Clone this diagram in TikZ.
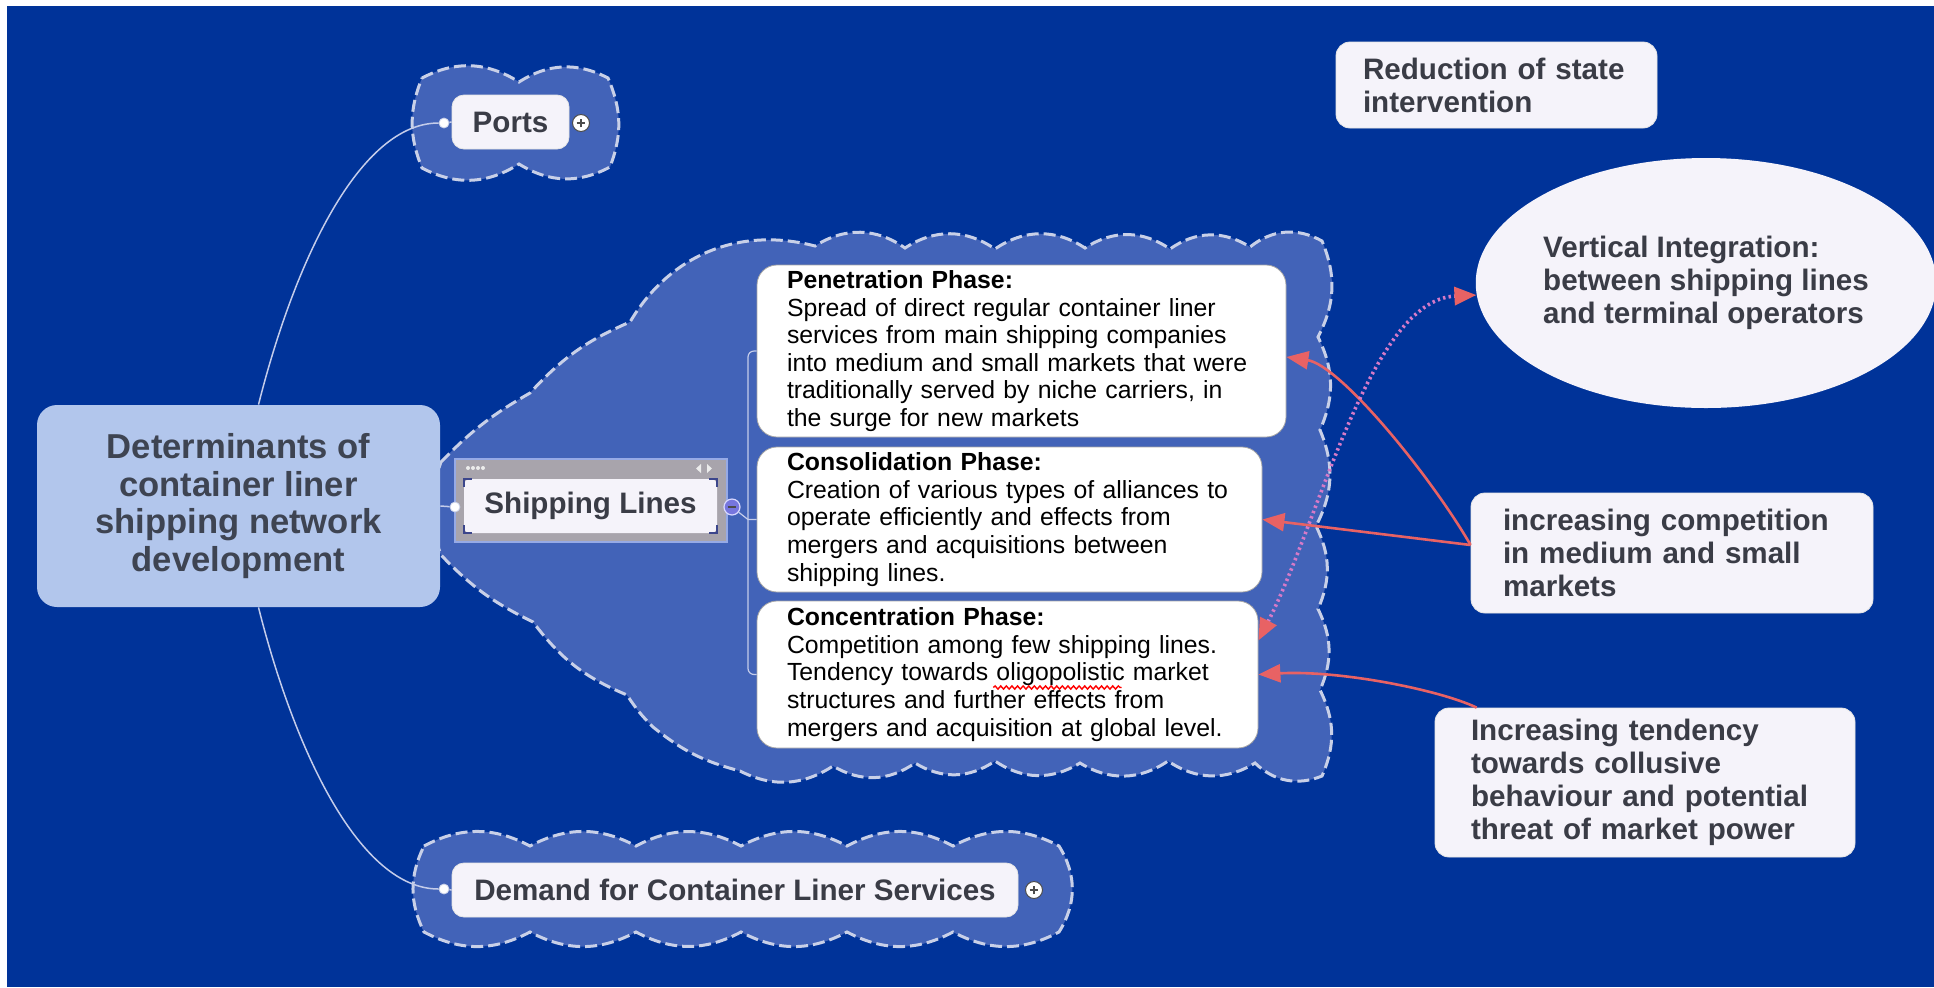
\documentclass[tikz,border=0pt]{standalone}
\usepackage{fontspec}
\setmainfont{Liberation Sans}
\usetikzlibrary{shapes.geometric,arrows.meta,calc,decorations.pathmorphing}

\definecolor{sea}{RGB}{0,51,153}
\definecolor{cloudfill}{RGB}{66,99,184}
\definecolor{cloudline}{RGB}{200,208,232}
\definecolor{rootfill}{RGB}{178,198,236}
\definecolor{boxfill}{RGB}{245,243,250}
\definecolor{ink}{RGB}{58,60,70}
\definecolor{rootink}{RGB}{62,68,82}
\definecolor{coral}{RGB}{232,98,100}
\definecolor{dotpink}{RGB}{214,122,200}
\definecolor{twig}{RGB}{196,204,234}
\definecolor{framegray}{RGB}{168,164,172}
\definecolor{minusfill}{RGB}{118,118,222}

\newcommand\rootfont{\fontsize{17.3pt}{18.8pt}\selectfont\bfseries}
\newcommand\labelfont{\fontsize{14.8pt}{16.5pt}\selectfont\bfseries}
\newcommand\phasefont{\fontsize{12.4pt}{13.8pt}\selectfont}
\newlength\wavestart
\newlength\wavelen

\begin{document}
\settowidth{\wavestart}{\phasefont Tendency towards }%
\settowidth{\wavelen}{\phasefont oligopolistic}%
\begin{tikzpicture}[x=0.5pt,y=-0.5pt,
    lbl/.style={font=\labelfont,text=ink},
    bubble/.style={lbl,draw=white!80!gray,fill=boxfill,rounded corners=7pt,line width=0.4pt,align=left,inner ysep=0pt},
    phase/.style={draw=gray!70,fill=white,rounded corners=10pt,align=left,font=\phasefont,text=black,inner xsep=15pt,inner ysep=0pt},
    knob/.style={circle,draw=cloudline,fill=white,inner sep=0pt,minimum size=5pt},
    toggle/.style={circle,draw=black!70,fill=white,inner sep=0pt,minimum size=8.5pt,line width=0.5pt,
      path picture={\draw[line width=0.8pt] ([xshift=-2.2pt]path picture bounding box.center) -- ([xshift=2.2pt]path picture bounding box.center)
        ([yshift=-2.2pt]path picture bounding box.center) -- ([yshift=2.2pt]path picture bounding box.center);}},
    cloud edge/.style={fill=cloudfill,draw=cloudline,line width=1.5pt,dash pattern=on 6pt off 2.5pt},
    link/.style={draw=twig,line width=0.75pt},
    corner/.style={draw={rgb,255:red,60;green,70;blue,140},line width=1pt},
    push/.style={draw=coral,line width=1.3pt,-{Triangle[length=11pt,width=9pt]}},
    tie/.style={draw=dotpink,line width=1.8pt,dash pattern=on 1.2pt off 1.6pt,
      {Triangle[length=11pt,width=9pt,color=coral]}-{Triangle[length=11pt,width=9pt,color=coral]}},
    spell/.style={draw=red,line width=0.7pt,decorate,decoration={snake,amplitude=0.8pt,segment length=2.8pt}}]

  \useasboundingbox (0,0) rectangle (1934,987);
  \fill[white] (0,0) rectangle (1934,987);
  \fill[sea] (7,6) rectangle (1934,987);

  % clouds behind the branches
  \draw[cloud edge] (422,78) to[bend left=30] (519,82) to[bend left=30] (608,78)
    to[bend left=22] (610,167) to[bend left=30] (519,164) to[bend left=30] (422,168)
    to[bend left=22] (422,78) -- cycle;

  \draw[cloud edge] (424,846) to[bend left=28] (530,846) to[bend left=28] (636,846)
    to[bend left=28] (741,846) to[bend left=28] (847,846) to[bend left=28] (953,846)
    to[bend left=28] (1059,846) to[bend left=32] (1059,932) to[bend left=28] (953,932)
    to[bend left=28] (847,932) to[bend left=28] (741,932) to[bend left=28] (636,932)
    to[bend left=28] (530,932) to[bend left=28] (424,932) to[bend left=26] (424,846) -- cycle;

  \draw[cloud edge] (441,462) to[bend left=8] (530,393) to[bend left=12] (630,322)
    to[bend left=37] (815,246) to[bend left=34] (905,248) to[bend left=34] (995,249)
    to[bend left=34] (1085,248) to[bend left=34] (1170,249) to[bend left=34] (1250,247)
    to[bend left=34] (1322,241) to[bend left=25] (1318,337) to[bend left=25] (1320,430)
    to[bend left=25] (1316,526) to[bend left=25] (1318,609) to[bend left=25] (1320,690)
    to[bend left=25] (1322,776) to[bend left=33] (1255,763) to[bend left=33] (1168,761)
    to[bend left=33] (1080,763) to[bend left=33] (995,761) to[bend left=33] (915,763)
    to[bend left=33] (833,766) to[bend left=30] (740,771) to[bend left=12] (653,727)
    to[bend left=6] (627,695) to[bend left=15] (533,622) to[bend left=10] (441,555)
    to[bend left=20] (441,462) -- cycle;

  \node[fill=rootfill,rounded corners=10pt,minimum width=201.5pt,minimum height=101pt,
    align=center,font=\rootfont,text=rootink] (root) at (238.5,506)
    {Determinants of\\ container liner\\ shipping network\\ development};

  \node[bubble,minimum width=58.5pt,minimum height=27pt,rounded corners=6pt,align=center] (ports) at (510.5,122) {Ports};
  \node[knob] (portsdot) at (444,123) {};
  \node[toggle] (portsplus) at (581,123) {};

  \node[bubble,minimum width=283pt,minimum height=27pt,rounded corners=6pt,align=center] (demand) at (735,890) {Demand for Container Liner Services};
  \node[knob] (demanddot) at (444,889) {};
  \node[toggle] (demandplus) at (1034,890) {};

  \node[fill=framegray,draw={rgb,255:red,150;green,170;blue,230},line width=0.6pt,
    minimum width=136pt,minimum height=41.5pt,inner sep=0pt] (shipframe) at (591,500.5) {};
  \node[lbl,fill=boxfill,rounded corners=3pt,minimum width=126.5pt,minimum height=27pt,inner sep=0pt] (ship) at (590.5,506) {Shipping Lines};
  \node[knob] (shipdot) at (455,507) {};
  \node[circle,draw=white!85!blue,fill=minusfill,inner sep=0pt,minimum size=8pt,line width=0.6pt,
    path picture={\draw[line width=0.9pt,black!70] ([xshift=-2.2pt]path picture bounding box.center) -- ([xshift=2.2pt]path picture bounding box.center);}]
    (shipminus) at (732,507) {};
  \foreach \i in {0,...,3}
    \fill[white!85!gray] (468+5*\i,468) circle (1pt);
  \fill[white!85!gray] (701,464) -- (701,473) -- (696,468.5) -- cycle;
  \fill[white!85!gray] (707,464) -- (707,473) -- (712,468.5) -- cycle;
  \draw[corner] ([yshift=-4pt]ship.north west) |- ([xshift=4pt]ship.north west);
  \draw[corner] ([yshift=-4pt]ship.north east) |- ([xshift=-4pt]ship.north east);
  \draw[corner] ([yshift=4pt]ship.south west) |- ([xshift=4pt]ship.south west);
  \draw[corner] ([yshift=4pt]ship.south east) |- ([xshift=-4pt]ship.south east);

  \node[phase,text width=234.5pt,minimum height=86pt] (pen) at (1021.5,351)
    {\textbf{Penetration Phase:}\\ Spread of direct regular container liner\\ services from main shipping companies\\
     into medium and small markets that were\\ traditionally served by niche carriers, in\\ the surge for new markets};
  \node[phase,text width=222.5pt,minimum height=72.5pt] (cons) at (1009.5,519.5)
    {\textbf{Consolidation Phase:}\\ Creation of various types of alliances to\\ operate efficiently and effects from\\
     mergers and acquisitions between\\ shipping lines.};
  \node[phase,text width=220.5pt,minimum height=73.5pt] (conc) at (1007.5,674.5)
    {\textbf{Concentration Phase:}\\ Competition among few shipping lines.\\ Tendency towards oligopolistic market\\
     structures and further effects from\\ mergers and acquisition at global level.};

  % red squiggle under the misspelt word
  \draw[spell] ([xshift=15pt+\wavestart,yshift=-6.5pt]conc.west) -- ([xshift=15pt+\wavestart+\wavelen,yshift=-6.5pt]conc.west);

  \coordinate (fork) at (748,519.5);
  \draw[link,line width=0.6pt,rounded corners=3pt] (pen.west) -| (fork) |- (conc.west);
  \draw[link,line width=0.6pt] (shipminus) -- (fork) -- (cons.west);

  \draw[link] ([xshift=10pt]root.north) .. controls (295,260) and (360,123) .. (portsdot);
  \draw[link] ([xshift=10pt]root.south) .. controls (295,752) and (360,889) .. (demanddot);
  \draw[link] (root.east) -- (shipdot);
  \draw[link] (portsdot) -- (ports.west);
  \draw[link] (demanddot) -- (demand.west);

  \node[bubble,text width=133.5pt,inner xsep=13.5pt,minimum height=43pt] (reduction) at (1496.5,85)
    {Reduction of state\\ intervention};
  \node[lbl,ellipse,fill=boxfill,align=left,inner sep=0pt,minimum width=196pt,minimum height=125pt] (vint) at (1706,283)
    {Vertical Integration:\\ between shipping lines\\ and terminal operators};
  \node[bubble,text width=169pt,inner xsep=16pt,minimum height=60pt] (comp) at (1672,553)
    {increasing competition\\ in medium and small\\ markets};
  \node[bubble,text width=174pt,inner xsep=18pt,minimum height=74.5pt] (tend) at (1645,782.5)
    {Increasing tendency\\ towards collusive\\ behaviour and potential\\ threat of market power};

  \draw[push] ([yshift=4pt]comp.west) .. controls (1430,475) and (1340,365) .. ([yshift=-3pt]pen.east);
  \draw[push] ([yshift=4pt]comp.west) -- (cons.east);
  \draw[tie] ([yshift=17pt]conc.east) .. controls (1320,520) and (1370,300) .. (vint.183);
  \draw[push] ([xshift=21pt]tend.north west) .. controls (1440,690) and (1340,670) .. (conc.east);
\end{tikzpicture}
\end{document}
